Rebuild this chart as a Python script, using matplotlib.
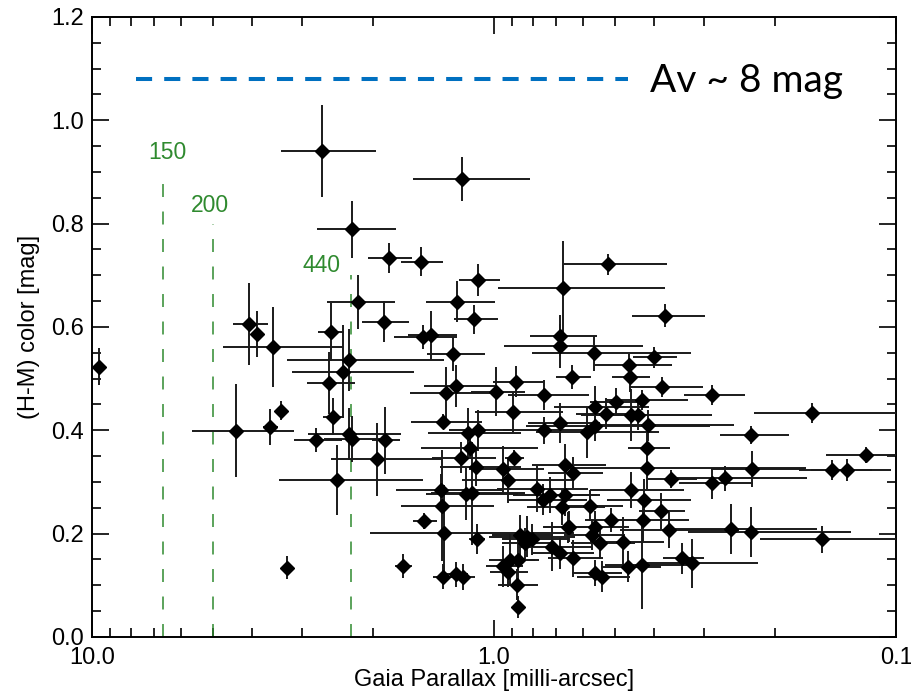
"""Gaia parallax vs (H-M) colour, with distance markers and an extinction line."""

import matplotlib
matplotlib.use("Agg")
import matplotlib.pyplot as plt
from matplotlib.ticker import LogLocator, MultipleLocator, FormatStrFormatter, NullFormatter

plt.rcParams["font.family"] = ["Liberation Sans", "DejaVu Sans"]

# parallax [mas], parallax error, (H-M) colour [mag], colour error
parallax = [9.61, 2.68, 2.25, 1.203, 1.83, 1.52, 1.094, 1.234, 1.12, 0.675,
            0.521, 0.3756, 2.18, 1.877, 4.06, 3.88, 3.54, 2.55, 2.30, 2.38,
            2.57, 3.39, 4.39, 3.60, 3.28, 2.51, 2.77, 2.30, 2.25, 1.866,
            1.95, 2.46, 1.505, 1.437, 1.262, 0.685, 0.685, 0.563, 0.461, 0.459,
            0.40, 0.638, 0.882, 1.243, 1.316, 0.989, 0.3815, 0.751, 0.895, 0.685,
            0.751, 0.561, 0.588, 0.561, 1.341, 1.159, 1.094, 1.147, 1.21, 1.109,
            0.89, 0.951, 0.921, 0.666, 0.635, 0.783, 0.757, 0.726, 0.666, 0.679,
            0.656, 0.577, 1.357, 1.349, 1.174, 1.136, 1.49, 1.332, 1.341, 1.243,
            1.196, 1.104, 0.862, 0.829, 0.806, 0.837, 0.948, 0.912, 0.873, 0.921,
            0.878, 0.873, 0.719, 0.685, 0.635, 0.65, 0.561, 0.54, 0.2873, 0.497,
            0.4292, 0.526, 0.457, 0.4375, 0.413, 0.162, 0.2298, 0.119, 0.1445, 0.1327,
            0.2286, 0.2662, 0.2873, 0.3634, 0.4155, 0.4171, 0.4235, 0.3849, 0.4268, 0.3664,
            0.2577, 0.2298, 0.1531, 0.341, 0.321, 0.4292, 0.4634, 0.457, 0.5125, 0.561,
            0.5715, 0.545, 0.477, 1.68]
parallax_err = [0.33, 0.71, 0.50, 0.39, 0.23, 0.18, 0.13, 0.24, 0.14, 0.30,
                0.15, 0.077, 0.42, 0.25, 0.40, 0.15, 1.17, 0.19, 0.97, 0.80,
                0.35, 0.10, 1.25, 0.15, 0.10, 0.15, 0.38, 0.60, 0.40, 0.15,
                0.60, 0.96, 0.27, 0.20, 0.21, 0.13, 0.26, 0.24, 0.10, 0.05,
                0.05, 0.065, 0.125, 0.25, 0.30, 0.15, 0.08, 0.17, 0.22, 0.14,
                0.20, 0.15, 0.20, 0.27, 0.27, 0.30, 0.20, 0.37, 0.22, 0.25,
                0.05, 0.20, 0.28, 0.14, 0.10, 0.20, 0.17, 0.17, 0.12, 0.15,
                0.10, 0.10, 0.40, 0.35, 0.30, 0.30, 0.10, 0.70, 0.08, 0.08,
                0.08, 0.05, 0.15, 0.20, 0.15, 0.12, 0.10, 0.12, 0.10, 0.10,
                0.10, 0.03, 0.15, 0.12, 0.10, 0.10, 0.08, 0.08, 0.05, 0.08,
                0.10, 0.10, 0.15, 0.15, 0.16, 0.063, 0.045, 0.03, 0.03, 0.03,
                0.06, 0.10, 0.06, 0.05, 0.05, 0.25, 0.10, 0.05, 0.10, 0.12,
                0.10, 0.10, 0.065, 0.04, 0.10, 0.10, 0.08, 0.12, 0.08, 0.10,
                0.10, 0.10, 0.10, 0.08]
color_hm = [0.523, 0.94, 0.789, 0.886, 0.733, 0.726, 0.691, 0.649, 0.615, 0.676,
            0.721, 0.622, 0.648, 0.610, 0.606, 0.586, 0.561, 0.591, 0.536, 0.513,
            0.492, 0.438, 0.399, 0.406, 0.134, 0.426, 0.381, 0.393, 0.383, 0.381,
            0.344, 0.304, 0.58, 0.584, 0.548, 0.583, 0.563, 0.549, 0.526, 0.504,
            0.541, 0.503, 0.494, 0.486, 0.473, 0.475, 0.484, 0.468, 0.436, 0.414,
            0.40, 0.446, 0.396, 0.409, 0.417, 0.394, 0.40, 0.365, 0.347, 0.328,
            0.347, 0.325, 0.304, 0.333, 0.318, 0.286, 0.266, 0.275, 0.275, 0.252,
            0.212, 0.2535, 0.2845, 0.254, 0.277, 0.278, 0.2245, 0.2007, 0.117, 0.121,
            0.1155, 0.189, 0.197, 0.194, 0.189, 0.181, 0.137, 0.149, 0.149, 0.126,
            0.1006, 0.0575, 0.175, 0.162, 0.152, 0.2135, 0.123, 0.117, 0.468, 0.455,
            0.4587, 0.4316, 0.4297, 0.4297, 0.41, 0.433, 0.391, 0.352, 0.323, 0.323,
            0.325, 0.307, 0.2975, 0.306, 0.366, 0.3265, 0.265, 0.2445, 0.2264, 0.207,
            0.2084, 0.2026, 0.189, 0.152, 0.1426, 0.139, 0.136, 0.2845, 0.2264, 0.2135,
            0.1974, 0.181, 0.1844, 0.138]
color_err = [0.036, 0.089, 0.055, 0.042, 0.029, 0.028, 0.031, 0.04, 0.028, 0.09,
             0.021, 0.023, 0.052, 0.04, 0.08, 0.044, 0.077, 0.056, 0.06, 0.09,
             0.06, 0.019, 0.09, 0.035, 0.022, 0.036, 0.023, 0.05, 0.045, 0.065,
             0.071, 0.068, 0.023, 0.047, 0.033, 0.04, 0.043, 0.034, 0.022, 0.03,
             0.02, 0.024, 0.03, 0.04, 0.05, 0.048, 0.02, 0.029, 0.039, 0.039,
             0.026, 0.039, 0.05, 0.03, 0.015, 0.05, 0.04, 0.02, 0.03, 0.035,
             0.015, 0.045, 0.045, 0.04, 0.03, 0.045, 0.03, 0.035, 0.04, 0.035,
             0.03, 0.03, 0.03, 0.107, 0.05, 0.10, 0.015, 0.094, 0.025, 0.025,
             0.025, 0.029, 0.04, 0.04, 0.03, 0.03, 0.04, 0.05, 0.04, 0.03,
             0.03, 0.021, 0.047, 0.03, 0.035, 0.03, 0.025, 0.03, 0.019, 0.026,
             0.02, 0.03, 0.05, 0.03, 0.03, 0.019, 0.018, 0.016, 0.02, 0.022,
             0.034, 0.024, 0.03, 0.018, 0.03, 0.04, 0.04, 0.035, 0.04, 0.035,
             0.048, 0.048, 0.026, 0.03, 0.047, 0.084, 0.03, 0.034, 0.023, 0.03,
             0.03, 0.03, 0.047, 0.023]

# distance markers [pc]
dist_pc = [150, 200, 440]
dist_labels = ["150", "200", "440"]
dist_line_top = [0.90, 0.80, 0.70]
dist_label_xy = [(6.5, 0.937), (5.1, 0.836), (2.68, 0.718)]

# extinction line
av_range = [7.78, 0.464]
av_color = 1.08
av_label = "Av ~ 8 mag"

fig = plt.figure(figsize=(9.12, 6.95), dpi=100)
ax = fig.add_axes([0.1009, 0.0835, 0.8816, 0.8921])

ax.errorbar(parallax, color_hm, xerr=parallax_err, yerr=color_err,
            fmt="D", ms=6.8, mfc="black", mec="black", ecolor="#1a1a1a",
            elinewidth=1.4, capsize=0, zorder=3)

green = "#2f8a2f"
for d, lab, top, (lx, ly) in zip(dist_pc, dist_labels, dist_line_top, dist_label_xy):
    plx = 1000.0 / d
    ax.plot([plx, plx], [0, top], color=green, lw=1.1, dashes=(8.5, 9.5), zorder=2)
    ax.text(lx, ly, lab, color=green, fontsize=16.5, ha="center", va="center")

ax.plot(av_range, [av_color, av_color], color="#0070c0", lw=2.9,
        dashes=(4.0, 3.0), zorder=4)
ax.text(0.409, 1.055, av_label, fontsize=28, family=["Lato", "DejaVu Sans"],
        ha="left", va="baseline", color="black")

ax.set_xscale("log")
ax.set_xlim(10, 0.1)
ax.set_ylim(0, 1.2)
ax.set_xticks([10, 1, 0.1])
ax.set_xticklabels(["10.0", "1.0", "0.1"])
ax.xaxis.set_minor_locator(LogLocator(base=10, subs=range(2, 10)))
ax.xaxis.set_minor_formatter(NullFormatter())
ax.yaxis.set_major_locator(MultipleLocator(0.2))
ax.yaxis.set_minor_locator(MultipleLocator(0.05))
ax.yaxis.set_major_formatter(FormatStrFormatter("%.1f"))

ax.tick_params(which="both", direction="in", top=True, right=True,
               labelsize=17, width=1.2, color="black")
ax.tick_params(which="major", length=12)
ax.tick_params(which="minor", length=6.5)
ax.tick_params(axis="x", pad=7)
ax.tick_params(axis="y", pad=6)
for sp in ax.spines.values():
    sp.set_linewidth(1.4)

ax.set_xlabel("Gaia Parallax [milli-arcsec]", fontsize=17, labelpad=0)
ax.set_ylabel("(H-M) color [mag]", fontsize=17, labelpad=8)

fig.savefig("out.png", dpi=100)
